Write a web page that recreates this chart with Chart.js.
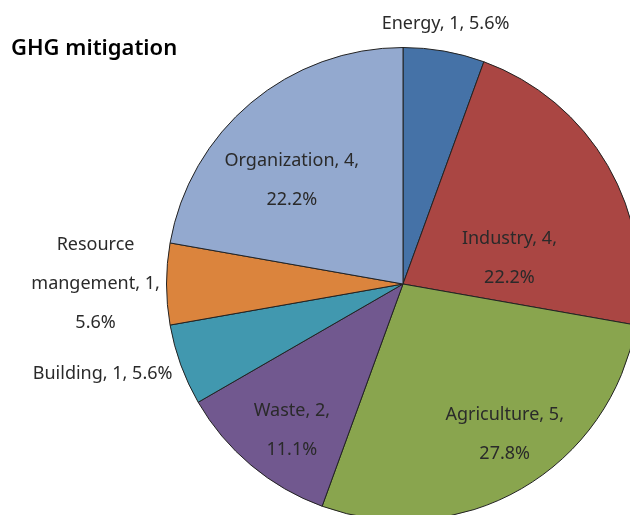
<!DOCTYPE html>
<html>
<head>
<meta charset="utf-8">
<script src="https://cdn.jsdelivr.net/npm/chart.js@4/dist/chart.umd.min.js"></script>
<style>
  html, body { margin: 0; padding: 0; background: #fff; overflow: hidden; }
  #wrap { position: absolute; left: 0; top: 0; width: 806px; height: 568px; }
</style>
</head>
<body>
<div id="wrap"><canvas id="chart-pie"></canvas></div>
<script>
const categories = ['Energy', 'Industry', 'Agriculture', 'Waste', 'Building', 'Resource mangement', 'Organization']
const counts = [1, 4, 5, 2, 1, 1, 4]
const percents = ['5.6%', '22.2%', '27.8%', '11.1%', '5.6%', '5.6%', '22.2%']
const colors = ['#4572A7', '#AA4643', '#89A54E', '#71588F', '#4198AF', '#DB843D', '#93A9CF']

// label text lines for each slice
const labelLines = [
  ['Energy, 1, 5.6%'],
  ['Industry, 4,', '22.2%'],
  ['Agriculture, 5,', '27.8%'],
  ['Waste, 2,', '11.1%'],
  ['Building, 1, 5.6%'],
  ['Resource', 'mangement, 1,', '5.6%'],
  ['Organization, 4,', '22.2%']
]
// label centre relative to pie centre, in units of the radius
const labelOffsets = [
  [0.18, -1.10],
  [0.45, -0.11],
  [0.43, 0.635],
  [-0.47, 0.62],
  [-1.27, 0.38],
  [-1.30, 0.00],
  [-0.47, -0.44]
]

const sliceLabels = {
  id: 'sliceLabels',
  afterDraw (chart) {
    const ctx = chart.ctx
    const arc = chart.getDatasetMeta(0).data[0]
    const r = arc.outerRadius
    ctx.save()
    ctx.fillStyle = '#2a2a2a'
    ctx.textAlign = 'center'
    ctx.textBaseline = 'middle'
    ctx.font = '18px "Noto Sans"'
    labelLines.forEach((lines, i) => {
      const cx = arc.x + labelOffsets[i][0] * r
      const cy = arc.y + labelOffsets[i][1] * r
      const lh = 39
      lines.forEach((t, j) => {
        ctx.fillText(t, cx, cy + (j - (lines.length - 1) / 2) * lh)
      })
    })
    ctx.textAlign = 'left'
    ctx.fillStyle = '#000'
    ctx.font = '600 22px "Noto Sans"'
    ctx.fillText('GHG mitigation', 11, 49)
    ctx.restore()
  }
}

const pieChart = new Chart(document.getElementById('chart-pie').getContext('2d'), {
  type: 'pie',
  data: {
    labels: categories,
    datasets: [{
      data: counts,
      backgroundColor: colors,
      borderColor: '#222',
      borderWidth: 1
    }]
  },
  options: {
    responsive: true,
    maintainAspectRatio: false,
    animation: false,
    layout: { padding: { top: 47, bottom: 47 } },
    plugins: {
      legend: { display: false },
      tooltip: { enabled: false }
    }
  },
  plugins: [sliceLabels]
})
</script>
</body>
</html>
